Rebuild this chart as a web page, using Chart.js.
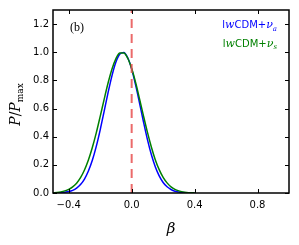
<!DOCTYPE html>
<html>
<head>
<meta charset="utf-8">
<script src="https://cdn.jsdelivr.net/npm/chart.js@4"></script>
<style>
  html, body { margin: 0; padding: 0; background: #fff; }
</style>
</head>
<body>
<canvas id="beta" width="299" height="245"></canvas>
<script>
// beta grid and normalised posteriors
var betaGrid = [-0.5, -0.475, -0.45, -0.425, -0.4, -0.375, -0.35, -0.325, -0.3, -0.275,
  -0.25, -0.225, -0.2, -0.175, -0.15, -0.125, -0.1, -0.075, -0.05, -0.025,
  0, 0.025, 0.05, 0.075, 0.1, 0.125, 0.15, 0.175, 0.2, 0.225,
  0.25, 0.275, 0.3, 0.325, 0.35, 0.375, 0.4];
var probNuA = [0.0005, 0.001, 0.002, 0.005, 0.010, 0.019, 0.035, 0.060, 0.099, 0.156,
  0.232, 0.331, 0.449, 0.580, 0.713, 0.834, 0.930, 0.987, 0.998, 0.961,
  0.881, 0.768, 0.639, 0.506, 0.381, 0.273, 0.187, 0.122, 0.075, 0.044,
  0.025, 0.013, 0.007, 0.003, 0.0015, 0.0007, 0.0003];
var probNuS = [0.002, 0.004, 0.008, 0.015, 0.026, 0.044, 0.070, 0.109, 0.163, 0.234,
  0.323, 0.427, 0.544, 0.665, 0.781, 0.881, 0.955, 0.995, 0.995, 0.957,
  0.884, 0.785, 0.669, 0.548, 0.432, 0.327, 0.237, 0.166, 0.111, 0.072,
  0.044, 0.026, 0.015, 0.008, 0.004, 0.002, 0.001];
var refBeta = 0.0;

var xTicks = [-0.4, 0.0, 0.4, 0.8];
var xTickLabels = ['\u22120.4', '0.0', '0.4', '0.8'];
var yTicks = [0.0, 0.2, 0.4, 0.6, 0.8, 1.0, 1.2];
var yTickLabels = ['0.0', '0.2', '0.4', '0.6', '0.8', '1.0', '1.2'];

function pts(xs, ys) {
  return xs.map(function (x, i) { return { x: x, y: ys[i] }; });
}

// box, inward ticks, labels and the text annotations
var decor = {
  id: 'decor',
  afterDatasetsDraw: function (chart) {
    var c = chart.ctx, a = chart.chartArea;
    var xs = chart.scales.x, ys = chart.scales.y;
    c.save();
    c.strokeStyle = '#000';
    c.lineWidth = 1;
    xTicks.forEach(function (v) {
      var px = Math.round(xs.getPixelForValue(v)) + 0.5;
      c.beginPath();
      c.moveTo(px, a.bottom); c.lineTo(px, a.bottom - 4);
      c.moveTo(px, a.top); c.lineTo(px, a.top + 4);
      c.stroke();
    });
    yTicks.forEach(function (v) {
      var py = Math.round(ys.getPixelForValue(v)) + 0.5;
      c.beginPath();
      c.moveTo(a.left, py); c.lineTo(a.left + 4, py);
      c.moveTo(a.right, py); c.lineTo(a.right - 4, py);
      c.stroke();
    });
    c.lineWidth = 1.5;
    c.strokeRect(a.left, a.top, a.right - a.left, a.bottom - a.top);

    // panel tag
    c.fillStyle = '#000';
    c.font = '12px "Liberation Serif"';
    c.textBaseline = 'alphabetic';
    c.textAlign = 'left';
    c.fillText('(b)', 70, 31);

    // legend text, right aligned
    function legendLine(sub, color, base) {
      var parts = [
        ['l', '10px "DejaVu Sans"', 0],
        ['w', 'italic 11px "DejaVu Serif"', 0],
        ['CDM+', '10px "DejaVu Sans"', 0],
        ['\u03bd', 'italic 11px "DejaVu Serif"', 0],
        [sub, 'italic 7px "DejaVu Serif"', 2.5]
      ];
      var w = 0;
      parts.forEach(function (p) { c.font = p[1]; w += c.measureText(p[0]).width; });
      var x = 277 - w;
      c.fillStyle = color;
      parts.forEach(function (p) {
        c.font = p[1];
        c.fillText(p[0], x, base + p[2]);
        x += c.measureText(p[0]).width;
      });
    }
    legendLine('a', '#0000ff', 28);
    legendLine('s', '#008000', 46.5);

    // x title
    c.fillStyle = '#000';
    c.font = 'italic 15px "DejaVu Serif"';
    c.textAlign = 'center';
    c.fillText('\u03b2', (a.left + a.right) / 2, 233);

    // y title
    c.translate(20, (a.top + a.bottom) / 2 + 3);
    c.rotate(-Math.PI / 2);
    var yparts = [
      ['P', 'italic 14px "DejaVu Serif"', 0],
      ['/', '14px "DejaVu Serif"', 0],
      ['P', 'italic 14px "DejaVu Serif"', 0],
      ['max', '9px "DejaVu Serif"', 3]
    ];
    var tw = 0;
    yparts.forEach(function (p) { c.font = p[1]; tw += c.measureText(p[0]).width; });
    var tx = -tw / 2;
    c.textAlign = 'left';
    yparts.forEach(function (p) {
      c.font = p[1];
      c.fillText(p[0], tx, p[2]);
      tx += c.measureText(p[0]).width;
    });
    c.restore();
  }
};

var ctx = document.getElementById('beta');
var chart = new Chart(ctx, {
  type: 'line',
  data: {
    datasets: [
      {
        data: pts([refBeta, refBeta], [0, 1.3]),
        borderColor: 'rgba(232, 80, 80, 0.85)',
        borderWidth: 2,
        borderDash: [9, 6],
        pointRadius: 0
      },
      {
        data: pts(betaGrid, probNuS),
        borderColor: '#008000',
        borderWidth: 1.5,
        pointRadius: 0,
        cubicInterpolationMode: 'monotone'
      },
      {
        data: pts(betaGrid, probNuA),
        borderColor: '#0000ff',
        borderWidth: 1.5,
        pointRadius: 0,
        cubicInterpolationMode: 'monotone'
      }
    ]
  },
  options: {
    responsive: false,
    animation: false,
    devicePixelRatio: 1,
    layout: { padding: { top: 10, right: 10, left: 0, bottom: 0 } },
    plugins: { legend: { display: false }, tooltip: { enabled: false } },
    scales: {
      x: {
        type: 'linear',
        min: -0.5,
        max: 1.0,
        grid: { display: false, drawTicks: false },
        border: { display: false },
        afterBuildTicks: function (s) { s.ticks = xTicks.map(function (v) { return { value: v }; }); },
        afterFit: function (s) { s.height = 52; },
        ticks: {
          padding: 6,
          autoSkip: false,
          color: '#000',
          font: { family: 'DejaVu Sans', size: 10 },
          maxRotation: 0,
          callback: function (v) { return xTickLabels[xTicks.indexOf(v)]; }
        }
      },
      y: {
        type: 'linear',
        min: 0,
        max: 1.3,
        grid: { display: false, drawTicks: false },
        border: { display: false },
        afterBuildTicks: function (s) { s.ticks = yTicks.map(function (v) { return { value: v }; }); },
        afterFit: function (s) { s.width = 53; },
        ticks: {
          padding: 4,
          autoSkip: false,
          color: '#000',
          font: { family: 'DejaVu Sans', size: 10 },
          callback: function (v) { return yTickLabels[yTicks.indexOf(v)]; }
        }
      }
    }
  },
  plugins: [decor]
});
</script>
</body>
</html>
